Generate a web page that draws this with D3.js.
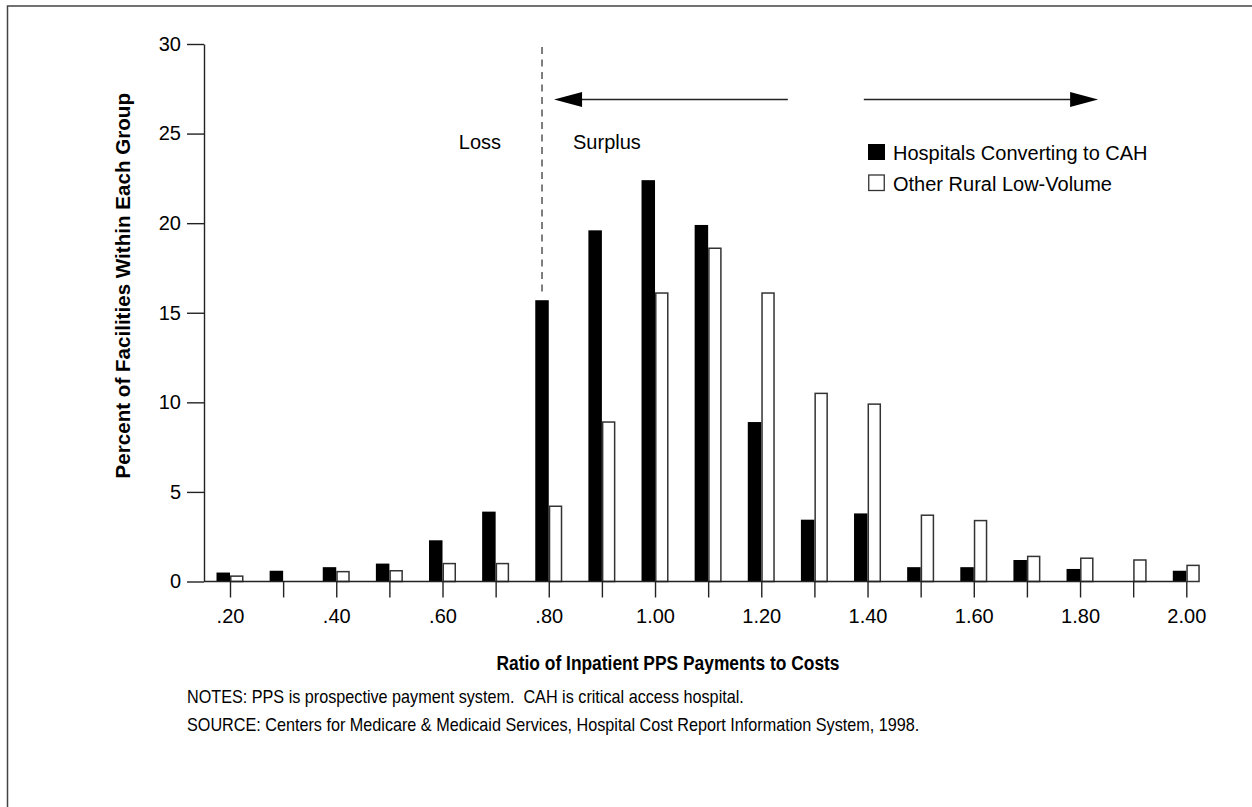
<!DOCTYPE html>
<html><head><meta charset="utf-8">
<script src="https://cdn.jsdelivr.net/npm/d3@7"></script>
<style>
body{margin:0;background:#fff}
svg text{font-family:"Liberation Sans",Arial,Helvetica,sans-serif;fill:#000}
</style>
</head><body>
<svg id="chart" width="1252" height="807"></svg>
<script>
// ---- data ----
const ratios = [0.2,0.3,0.4,0.5,0.6,0.7,0.8,0.9,1.0,1.1,1.2,1.3,1.4,1.5,1.6,1.7,1.8,1.9,2.0];
const cahValues   = [0.5,0.6,0.8,1.0,2.3,3.9,15.7,19.6,22.4,19.9,8.9,3.45,3.8,0.8,0.8,1.2,0.7,0,0.6];
const otherValues = [0.3,0,0.55,0.6,1.0,1.0,4.2,8.9,16.1,18.6,16.1,10.5,9.9,3.7,3.4,1.4,1.3,1.2,0.9];
const xTickLabels = [".20","",".40","",".60","",".80","","1.00","","1.20","","1.40","","1.60","","1.80","","2.00"];
const yTicks = [0,5,10,15,20,25,30];
const seriesNames = ["Hospitals Converting to CAH","Other Rural Low-Volume"];
const xTitle = "Ratio of Inpatient PPS Payments to Costs";
const yTitle = "Percent of Facilities Within Each Group";
const notes = ["NOTES: PPS is prospective payment system.  CAH is critical access hospital.",
  "SOURCE: Centers for Medicare & Medicaid Services, Hospital Cost Report Information System, 1998."];

// ---- layout ----
const svg = d3.select("#chart");
const axisX0 = 204;
const x = d3.scaleLinear().domain([0.2,2.0]).range([230,1186.3]);
const y = d3.scaleLinear().domain([0,30]).range([581.5,44]);
const barW = 13.5;
const ink = "#222";

// frame
svg.append("path").attr("d","M7.5,807V6H1252").attr("fill","none").attr("stroke","#444").attr("stroke-width",1.5);

// bars
const rows = ratios.map((r,i)=>({r, cah:cahValues[i], other:otherValues[i]}));
svg.append("g").selectAll("rect").data(rows.filter(d=>d.cah>0)).join("rect")
  .attr("x",d=>x(d.r)-barW).attr("width",barW)
  .attr("y",d=>y(d.cah)).attr("height",d=>y(0)-y(d.cah))
  .attr("fill","#000");
svg.append("g").selectAll("rect").data(rows.filter(d=>d.other>0)).join("rect")
  .attr("x",d=>x(d.r)+0.75).attr("width",barW-1.5)
  .attr("y",d=>y(d.other)).attr("height",d=>y(0)-y(d.other))
  .attr("fill","#fff").attr("stroke","#333").attr("stroke-width",1.5);

// y axis
const gy = svg.append("g").attr("transform",`translate(${axisX0},0)`)
  .call(d3.axisLeft(y).tickValues(yTicks).tickSize(17).tickSizeOuter(0).tickPadding(6));
gy.select(".domain").attr("stroke",ink).attr("stroke-width",1.4);
gy.selectAll(".tick line").attr("stroke",ink).attr("stroke-width",1.4);
gy.selectAll(".tick text").attr("font-size",20).attr("font-family","Liberation Sans, Arial, sans-serif").attr("fill","#000");

// x axis
const gx = svg.append("g").attr("transform",`translate(0,${y(0)})`)
  .call(d3.axisBottom(x).tickValues(ratios).tickSize(16).tickPadding(11)
    .tickFormat((d,i)=>xTickLabels[i]));
gx.select(".domain").remove();
gx.append("line").attr("x1",axisX0).attr("x2",x(2.0)).attr("stroke",ink).attr("stroke-width",1.6);
gx.selectAll(".tick line").attr("stroke",ink).attr("stroke-width",1.4);
gx.selectAll(".tick text").attr("font-size",20).attr("font-family","Liberation Sans, Arial, sans-serif").attr("fill","#000");

// divider line and annotations
const divX = x(0.8) - barW/2;
svg.append("line").attr("x1",divX).attr("x2",divX)
  .attr("y1",y(30)+3).attr("y2",y(cahValues[6])-7)
  .attr("stroke","#555").attr("stroke-width",1.5).attr("stroke-dasharray","7,5.5");
svg.append("text").attr("x",divX-41).attr("y",149).attr("text-anchor","end").attr("font-size",20).text("Loss");
svg.append("text").attr("x",divX+31).attr("y",149).attr("font-size",20).text("Surplus");

// arrows
const arrowY = y(26.9);
function arrow(xTail, xTip){
  const dir = Math.sign(xTip - xTail);
  svg.append("line").attr("x1",xTail).attr("x2",xTip - dir*20).attr("y1",arrowY).attr("y2",arrowY)
    .attr("stroke",ink).attr("stroke-width",1.6);
  svg.append("path").attr("d",`M${xTip},${arrowY}L${xTip-dir*28},${arrowY-7.5}L${xTip-dir*28},${arrowY+7.5}Z`)
    .attr("fill","#000");
}
arrow(x(1.25), x(0.81));
arrow(x(1.393), x(1.834));

// legend
const lg = svg.append("g").attr("transform","translate(868,144)");
lg.append("rect").attr("x",0).attr("y",0).attr("width",17).attr("height",16).attr("fill","#000");
lg.append("text").attr("x",25).attr("y",16).attr("font-size",20).text(seriesNames[0]);
lg.append("rect").attr("x",0.75).attr("y",31).attr("width",15.5).attr("height",15.5).attr("fill","#fff").attr("stroke","#333").attr("stroke-width",1.3);
lg.append("text").attr("x",25).attr("y",46.5).attr("font-size",20).text(seriesNames[1]);

// axis titles (condensed look)
svg.append("g").attr("transform","translate(668,670) scale(0.87,1)")
  .append("text").attr("x",0).attr("y",0).attr("text-anchor","middle")
  .attr("font-size",20).attr("font-weight","bold")
  .text(xTitle);
svg.append("text").attr("transform",`translate(130,${(y(0)+y(30))/2 - 27}) rotate(-90)`)
  .attr("text-anchor","middle").attr("font-size",20.6).attr("font-weight","bold")
  .text(yTitle);

// notes (condensed look)
const ng = svg.append("g").attr("transform","translate(187,0) scale(0.9,1)");
ng.selectAll(".note").data(notes).join("text").attr("class","note")
  .attr("x",0).attr("y",(d,i)=>703+i*28).attr("font-size",18)
  .style("white-space","pre")
  .text(d=>d);
</script>
</body></html>
